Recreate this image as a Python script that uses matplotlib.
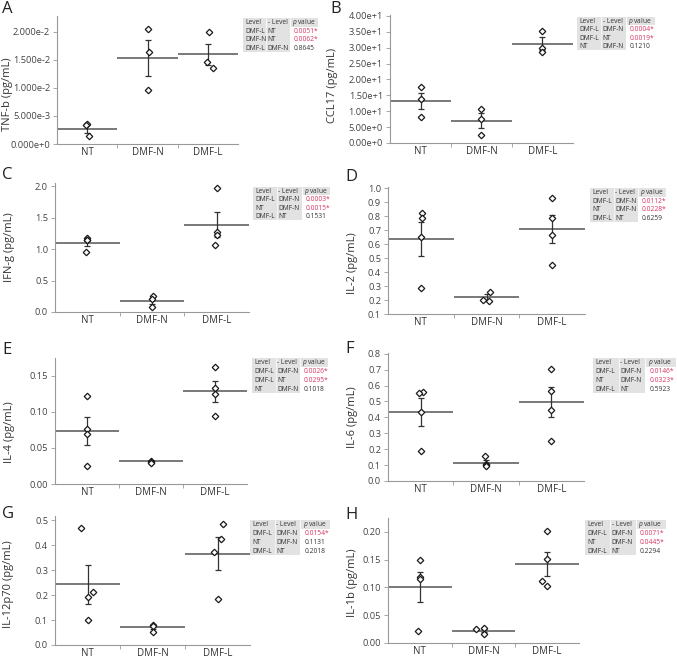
import matplotlib.pyplot as plt
from matplotlib.patches import Rectangle
from matplotlib.ticker import FuncFormatter

plt.rcParams['font.family'] = ['Open Sans', 'DejaVu Sans']
plt.rcParams['mathtext.fontset'] = 'custom'
plt.rcParams['mathtext.it'] = 'Open Sans:italic'
plt.rcParams['mathtext.rm'] = 'Open Sans'

W, H = 677, 659
groups = ['NT', 'DMF-N', 'DMF-L']

# A: TNF-b
tnf_points = [[0.0036, 0.0034, 0.0014], [0.0205, 0.0163, 0.0097], [0.0199, 0.0146, 0.0135]]
tnf_jit = [[0.0, -0.02, 0.03], [0.0, 0.02, 0.0], [0.02, -0.02, 0.08]]
tnf_mean = [0.0027, 0.0154, 0.0160]
tnf_sem = [0.0007, 0.0032, 0.0019]
tnf_p = [('DMF-L', 'NT', '0.0051*'), ('DMF-N', 'NT', '0.0062*'), ('DMF-L', 'DMF-N', '0.8645')]

# B: CCL17
ccl_points = [[17.6, 13.8, 8.2], [10.8, 7.6, 2.5], [35.3, 29.8, 28.8]]
ccl_jit = [[0.0, 0.0, 0.0], [0.0, 0.0, 0.0], [0.0, 0.0, 0.0]]
ccl_mean = [13.2, 7.0, 31.3]
ccl_sem = [2.6, 2.4, 2.0]
ccl_p = [('DMF-L', 'DMF-N', '0.0004*'), ('DMF-L', 'NT', '0.0019*'), ('NT', 'DMF-N', '0.1210')]

# C: IFN-g
ifn_points = [[1.17, 1.15, 1.14, 0.95], [0.25, 0.20, 0.08], [1.97, 1.27, 1.23, 1.07]]
ifn_jit = [[0.0, 0.0, 0.0, -0.02], [0.02, 0.0, 0.0], [0.0, 0.0, 0.0, -0.03]]
ifn_mean = [1.10, 0.175, 1.385]
ifn_sem = [0.05, 0.05, 0.2]
ifn_p = [('DMF-L', 'DMF-N', '0.0003*'), ('NT', 'DMF-N', '0.0015*'), ('DMF-L', 'NT', '0.1531')]

# D: IL-2
il2_points = [[0.822, 0.787, 0.652, 0.289], [0.261, 0.202, 0.195], [0.931, 0.787, 0.668, 0.450]]
il2_jit = [[0.02, 0.02, 0.0, 0.0], [0.06, -0.05, 0.04], [0.0, 0.0, 0.0, 0.0]]
il2_mean = [0.638, 0.221, 0.711]
il2_sem = [0.12, 0.021, 0.10]
il2_p = [('DMF-L', 'DMF-N', '0.0112*'), ('NT', 'DMF-N', '0.0228*'), ('DMF-L', 'NT', '0.6259')]

# E: IL-4
il4_points = [[0.1219, 0.0768, 0.0695, 0.0253], [0.0315, 0.0305, 0.0295], [0.163, 0.134, 0.1247, 0.0943]]
il4_jit = [[0.0, 0.0, 0.0, 0.0], [0.0, 0.0, 0.0], [0.0, 0.0, 0.0, 0.0]]
il4_mean = [0.0736, 0.0313, 0.1288]
il4_sem = [0.020, 0.0008, 0.0145]
il4_p = [('DMF-L', 'DMF-N', '0.0026*'), ('DMF-L', 'NT', '0.0295*'), ('NT', 'DMF-N', '0.1018')]

# F: IL-6
il6_points = [[0.562, 0.552, 0.436, 0.187], [0.158, 0.105, 0.098, 0.095], [0.703, 0.568, 0.446, 0.253]]
il6_jit = [[0.04, -0.02, 0.0, 0.0], [-0.02, 0.0, 0.0, 0.0], [0.0, 0.0, 0.0, 0.0]]
il6_mean = [0.432, 0.116, 0.495]
il6_sem = [0.087, 0.018, 0.095]
il6_p = [('DMF-L', 'DMF-N', '0.0146*'), ('NT', 'DMF-N', '0.0323*'), ('DMF-L', 'NT', '0.5923')]

# G: IL-12p70
il12_points = [[0.470, 0.213, 0.191, 0.100], [0.081, 0.078, 0.052], [0.484, 0.425, 0.372, 0.184]]
il12_jit = [[-0.1, 0.08, 0.0, 0.0], [0.0, 0.0, 0.0], [0.08, 0.05, -0.05, 0.0]]
il12_mean = [0.243, 0.072, 0.366]
il12_sem = [0.079, 0.007, 0.065]
il12_p = [('DMF-L', 'DMF-N', '0.0154*'), ('NT', 'DMF-N', '0.1131'), ('DMF-L', 'NT', '0.2018')]

# H: IL-1b
il1_points = [[0.150, 0.118, 0.116, 0.022], [0.027, 0.0245, 0.016], [0.201, 0.152, 0.1116, 0.103]]
il1_jit = [[0.0, 0.0, 0.0, -0.03], [0.0, -0.11, 0.0], [0.0, 0.0, -0.08, 0.0]]
il1_mean = [0.101, 0.022, 0.142]
il1_sem = [0.0275, 0.003, 0.022]
il1_p = [('DMF-L', 'DMF-N', '0.0071*'), ('NT', 'DMF-N', '0.0445*'), ('DMF-L', 'NT', '0.2294')]


def sci(nd):
    def f(v, pos):
        m, e = f"{v:.{nd}e}".split('e')
        return f"{m}e{int(e):+d}"
    return FuncFormatter(f)


def fixed(nd):
    return FuncFormatter(lambda v, pos: f"{v:.{nd}f}")


fig = plt.figure(figsize=(W / 100, H / 100), dpi=100)


def panel(box, letter, letter_xy, ylabel, label_xy, points, jit, means, sems,
          ylim, yticks, fmt, tbox, rows):
    l, t, r, b = box
    ax = fig.add_axes([l / W, 1 - b / H, (r - l) / W, (b - t) / H])
    for i in range(3):
        ax.hlines(means[i], i - 0.5, i + 0.5, color='#555555', lw=1.1, zorder=2)
        ax.errorbar(i, means[i], yerr=sems[i], fmt='none', ecolor='#333333',
                    elinewidth=0.9, capsize=2.5, capthick=0.9, zorder=2)
        xs = [i + j for j in jit[i]]
        ax.plot(xs, points[i], 'D', ms=3.3, mfc='white', mec='#1a1a1a', mew=0.9, zorder=3)
    ax.set_xlim(-0.5, 2.5)
    ax.set_ylim(*ylim)
    ax.set_xticks(range(3))
    ax.set_xticklabels(groups)
    ax.set_xticks([0.5, 1.5], minor=True)
    ax.tick_params(axis='x', which='major', length=0, pad=2, labelsize=7, labelcolor='#333333')
    ax.tick_params(axis='x', which='minor', length=3, color='#999999', width=0.6)
    ax.set_yticks(yticks)
    ax.yaxis.set_major_formatter(fmt)
    ax.tick_params(axis='y', length=3, width=0.6, color='#999999', labelsize=6.7,
                   labelcolor='#444444', pad=2)
    for s in ['top', 'right']:
        ax.spines[s].set_visible(False)
    for s in ['left', 'bottom']:
        ax.spines[s].set_color('#999999')
        ax.spines[s].set_linewidth(0.8)
    ax.set_ylabel(ylabel, fontsize=8, color='#333333')
    ax.yaxis.set_label_coords((label_xy[0] - l) / (r - l), label_xy[1])
    fig.text(letter_xy[0] / W, 1 - letter_xy[1] / H, letter, fontsize=12,
             va='top', ha='left', color='#222222')

    # comparison table
    tl, tt, tw, th = tbox
    tab = fig.add_axes([tl / W, 1 - (tt + th) / H, tw / W, th / H])
    tab.axis('off')
    tab.set_xlim(0, 1)
    tab.set_ylim(4, 0)
    c1, c2 = 0.31, 0.63
    tab.add_patch(Rectangle((0, 0), 1, 1, color='#e2e2e2', lw=0))
    tab.add_patch(Rectangle((0, 1), c2, 3, color='#e2e2e2', lw=0))
    tab.vlines([c1, c2], 0, 1, color='white', lw=0.6)
    tab.vlines([c1], 1, 4, color='white', lw=0.4)
    fs = 4.8
    tab.text(0.03, 0.55, 'Level', fontsize=fs, va='center', color='#333333')
    tab.text(c1 + 0.02, 0.55, '- Level', fontsize=fs, va='center', color='#333333')
    tab.text(c2 + 0.03, 0.55, '$p$ value', fontsize=fs, va='center', color='#333333')
    for k, (a, bb, p) in enumerate(rows):
        y = 1.55 + k
        tab.text(0.03, y, a, fontsize=fs, va='center', color='#333333')
        tab.text(c1 + 0.02, y, bb, fontsize=fs, va='center', color='#333333')
        col = '#d8345f' if p.endswith('*') else '#333333'
        tab.text(c2 + 0.05, y, p, fontsize=fs, va='center', color=col)


panel((57, 16, 238, 144), 'A', (2, 1), 'TNF-b (pg/mL)', (13, 0.39), tnf_points, tnf_jit, tnf_mean, tnf_sem,
      (0, 0.0228), [0, 0.005, 0.01, 0.015, 0.02], sci(3), (243, 18, 75, 34), tnf_p)
panel((390, 15, 573, 143), 'B', (330, 1), 'CCL17 (pg/mL)', (338, 0.45), ccl_points, ccl_jit, ccl_mean, ccl_sem,
      (0, 40.3), [0, 5, 10, 15, 20, 25, 30, 35, 40], sci(2), (577, 17, 78, 33), ccl_p)
panel((55, 183, 249, 312), 'C', (2, 167), 'IFN-g (pg/mL)', (15, 0.5), ifn_points, ifn_jit, ifn_mean, ifn_sem,
      (0, 2.05), [0, 0.5, 1.0, 1.5, 2.0], fixed(1), (253, 187, 77, 33), ifn_p)
panel((388, 187, 585, 314), 'D', (345, 169), 'IL-2 (pg/mL)', (358, 0.40), il2_points, il2_jit, il2_mean, il2_sem,
      (0.1, 1.01), [0.1 * k for k in range(1, 11)], fixed(1), (590, 188, 76, 34), il2_p)
panel((55, 358, 247, 484), 'E', (2, 342), 'IL-4 (pg/mL)', (15, 0.41), il4_points, il4_jit, il4_mean, il4_sem,
      (0, 0.175), [0, 0.05, 0.10, 0.15], fixed(2), (252, 358, 76, 35), il4_p)
panel((388, 353, 584, 481), 'F', (345, 341), 'IL-6 (pg/mL)', (358, 0.5), il6_points, il6_jit, il6_mean, il6_sem,
      (0, 0.805), [0.1 * k for k in range(9)], fixed(1), (593, 358, 83, 35), il6_p)
panel((55, 516, 250, 645), 'G', (2, 506), 'IL-12p70 (pg/mL)', (14, 0.47), il12_points, il12_jit, il12_mean, il12_sem,
      (0, 0.517), [0.1 * k for k in range(6)], fixed(1), (250, 520, 80, 35), il12_p)
panel((388, 518, 579, 643), 'H', (345, 507), 'IL-1b (pg/mL)', (358, 0.48), il1_points, il1_jit, il1_mean, il1_sem,
      (0, 0.225), [0, 0.05, 0.10, 0.15, 0.20], fixed(2), (585, 520, 81, 35), il1_p)

fig.savefig('out.png', dpi=100, facecolor='white')
